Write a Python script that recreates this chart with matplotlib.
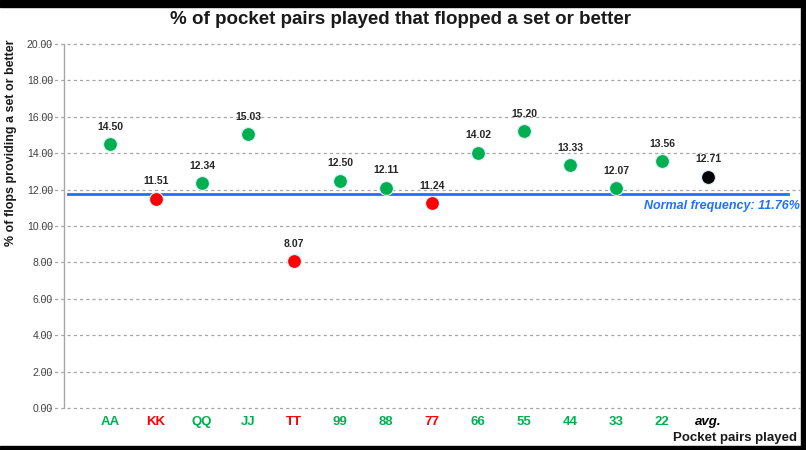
import matplotlib
matplotlib.use("Agg")
import matplotlib.pyplot as plt
from matplotlib.patches import Rectangle
import matplotlib.transforms as mtransforms

categories = ["AA", "KK", "QQ", "JJ", "TT", "99", "88", "77", "66", "55", "44", "33", "22", "avg."]
values = [14.50, 11.51, 12.34, 15.03, 8.07, 12.50, 12.11, 11.24, 14.02, 15.20, 13.33, 12.07, 13.56, 12.71]
colors = ["#00B050", "#FF0000", "#00B050", "#00B050", "#FF0000", "#00B050", "#00B050",
          "#FF0000", "#00B050", "#00B050", "#00B050", "#00B050", "#00B050", "#000000"]
normal_freq = 11.76
yticks = [0, 2, 4, 6, 8, 10, 12, 14, 16, 18, 20]

plt.rcParams['font.family'] = ['Liberation Sans', 'DejaVu Sans']

fig = plt.figure(figsize=(8.06, 4.5), dpi=100)
fig.patch.set_facecolor("white")
ax = fig.add_axes([64/806, 1-408/450, (800-64)/806, (408-44)/450])

xs = list(range(1, len(categories) + 1))
ax.set_xlim(0, 16)
ax.set_ylim(0, 20)

# gridlines extending left of the axis
trans = mtransforms.blended_transform_factory(ax.transAxes, ax.transData)
for t in yticks:
    ax.plot([-22/736, 1.0], [t, t], transform=trans, color="#A6A6A6", lw=0.9,
            ls=(0, (2.5, 2.5)), clip_on=False, zorder=1)

ax.axhline(normal_freq, xmin=4/736, xmax=724/736, color="#2070FF", lw=2.0, zorder=2)
ax.text(1.0, normal_freq - 0.35, "Normal frequency: 11.76%", transform=trans, ha="right",
        va="top", color="#2070FF", fontsize=9, fontweight="bold", style="italic")

for x, v, c in zip(xs, values, colors):
    ax.plot(x, v, "o", ms=10, mfc=c, mec="#DDEEFF", mew=0.8, zorder=3)
    ax.annotate(f"{v:.2f}", (x, v), xytext=(0, 12.5), textcoords="offset points",
                ha="center", va="center", fontsize=7.5, fontweight="bold", color="#262626")

ax.set_yticks(yticks)
ax.set_yticklabels([f"{t:.2f}" for t in yticks], fontsize=7.5, color="#404040")
ax.tick_params(axis="y", length=0, pad=8)
ax.set_xticks(xs)
ax.set_xticklabels(categories, fontsize=9.5, fontweight="bold")
for lbl, c in zip(ax.get_xticklabels(), colors):
    lbl.set_color(c)
ax.get_xticklabels()[-1].set_style("italic")
ax.tick_params(axis="x", length=0, pad=6)

for s in ["top", "right", "bottom"]:
    ax.spines[s].set_visible(False)
ax.spines["left"].set_color("#A6A6A6")
ax.spines["left"].set_linewidth(1.0)

fig.text(401/806, 1-19/450, "% of pocket pairs played that flopped a set or better",
         ha="center", va="center", fontsize=13.5, fontweight="bold", color="#1A1A1A")
fig.text(11/806, 1-143/450, "% of flops providing a set or better", rotation=90,
         ha="center", va="center", fontsize=9, fontweight="bold", color="#1A1A1A")
fig.text(797/806, 1-438/450, "Pocket pairs played", ha="right", va="center",
         fontsize=9.5, fontweight="bold", color="#1A1A1A")

# screenshot black borders
fig.patches.append(Rectangle((0, 1-7/450), 1, 7/450, transform=fig.transFigure,
                             color="black", zorder=10))
fig.patches.append(Rectangle((0, 0), 1, 4/450, transform=fig.transFigure,
                             color="black", zorder=10))
fig.patches.append(Rectangle((801/806, 0), 5/806, 1, transform=fig.transFigure,
                             color="black", zorder=10))

fig.savefig("out.png", dpi=100)
